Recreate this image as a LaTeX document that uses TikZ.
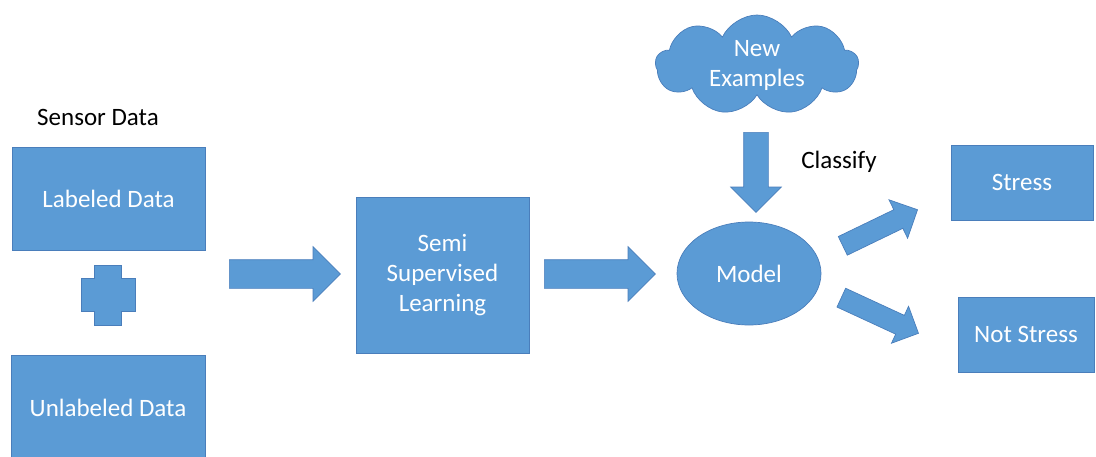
\documentclass[tikz,border=0pt]{standalone}
\usepackage{fontspec}
\setmainfont{Carlito}
\usetikzlibrary{shapes.arrows,shapes.symbols,shapes.geometric}
\definecolor{boxfill}{HTML}{5B9BD5}
\definecolor{boxline}{HTML}{4A7EBB}
\begin{document}
\begin{tikzpicture}[x=1pt,y=-1pt,
  every node/.style={font=\fontsize{25}{30}\selectfont},
  blk/.style={fill=boxfill,draw=boxline,line width=0.7pt,text=white,inner sep=0pt},
  rectbox/.style={blk,rectangle,align=center},
  barrow/.style n args={3}{blk,single arrow,minimum height=#1,inner ysep=#2,
    inner xsep=0pt,single arrow head extend=#3},
  plain/.style={text=black}
]
\useasboundingbox (0,0) rectangle (1096,456);

% inputs
\node[plain] (sensor) at (98,117) {Sensor Data};
\node[rectbox,minimum width=193pt,minimum height=103pt] (lab) at (108.5,198.5) {Labeled Data};
\node[rectbox,minimum width=194pt,minimum height=106pt] (unl) at (108,408) {Unlabeled Data};
\draw[blk] (94,265) -- (121,265) -- (121,278) -- (135,278) -- (135,311) -- (121,311)
  -- (121,325) -- (94,325) -- (94,311) -- (81,311) -- (81,278) -- (94,278) -- cycle;

% learning stage
\node[barrow={111pt}{14pt}{13pt},anchor=tail] (a1) at (229,274) {};
\node[rectbox,minimum width=173pt,minimum height=156pt] (ssl) at (442.5,275) {Semi\\Supervised\\Learning};
\node[barrow={111pt}{14pt}{13pt},anchor=tail] (a2) at (544,274) {};

% model and new data
\node[blk,cloud,cloud puffs=9,cloud puff arc=130,aspect=2,minimum width=203pt,
  minimum height=100pt,align=center] (new) at (757,65) {New\\Examples};
\node[barrow={80pt}{12pt}{13pt},anchor=tail,rotate=-90] (a3) at (756,132) {};
\node[plain] (classify) at (839,162) {Classify};
\node[blk,ellipse,minimum width=144pt,minimum height=103pt] (model) at (749,273.5) {Model};

% outcomes
\node[barrow={83pt}{10pt}{11pt},anchor=tail,rotate=25.8] (a4) at (842.5,246) {};
\node[barrow={85pt}{10pt}{10pt},anchor=tail,rotate=-24.8] (a5) at (841,297.5) {};
\node[rectbox,minimum width=142pt,minimum height=75pt] (stress) at (1022,182.5) {Stress};
\node[rectbox,minimum width=136pt,minimum height=75pt] (nots) at (1026,334.5) {Not Stress};
\end{tikzpicture}
\end{document}
